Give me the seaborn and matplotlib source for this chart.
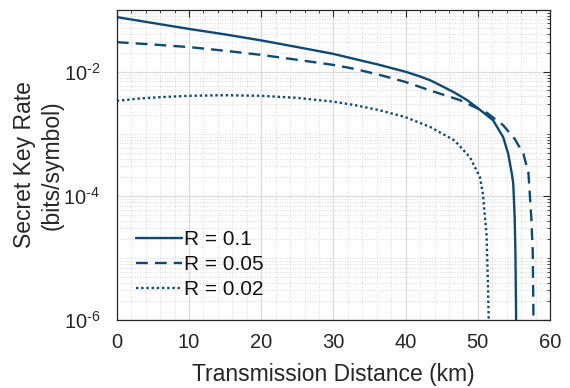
import numpy as np
import pandas as pd
import matplotlib
matplotlib.use("Agg")
import matplotlib.pyplot as plt
import seaborn as sns
from matplotlib.ticker import LogLocator, MultipleLocator, NullFormatter

# distances (km) and secret key rates (bits/symbol)
dist_r010 = [0, 5, 10, 15, 20, 25, 30, 33, 36.4, 38, 40, 42, 43.4, 45, 46.8, 48.5, 49.8, 51,
             52.1, 53.5, 54.2, 54.7, 54.9, 55.1, 55.2, 55.3, 55.35]
rate_r010 = [0.076, 0.061, 0.049, 0.040, 0.032, 0.025, 0.0194, 0.0160, 0.0129, 0.0115, 0.0100,
             0.0084, 0.0073, 0.0059, 0.0046, 0.0035, 0.0027, 0.0021, 0.00166, 0.00089, 0.00048,
             0.00023, 1.6e-4, 4.5e-5, 1.3e-5, 1.1e-6, 1e-7]

dist_r005 = [0, 5, 10, 15, 20, 25, 30, 33, 36.4, 39.9, 43.4, 47.5, 51.2, 53.5, 55.1, 56.3, 57.0,
             57.4, 57.6, 57.7, 57.75]
rate_r005 = [0.030, 0.0275, 0.025, 0.0218, 0.0187, 0.0156, 0.0129, 0.0111, 0.0089, 0.0069,
             0.0050, 0.0035, 0.0022, 0.00138, 0.00083, 0.00048, 0.00024, 4.5e-5, 1.3e-5, 1.1e-6, 1e-7]

dist_r002 = [0, 3, 6, 10, 14.8, 20, 25, 30, 33, 36.4, 39.9, 43.4, 46.8, 48.9, 50.3, 50.7, 51.2,
             51.4, 51.5, 51.55]
rate_r002 = [0.0034, 0.0037, 0.0039, 0.0041, 0.0042, 0.0041, 0.0038, 0.0033, 0.0029, 0.0024,
             0.00187, 0.00129, 0.00078, 0.00042, 0.0002, 1.07e-4, 2.4e-5, 3.7e-6, 1.1e-6, 1e-7]

labels = ["R = 0.1", "R = 0.05", "R = 0.02"]
ytick_vals = [1e-6, 1e-4, 1e-2]
ytick_exps = ["6", "4", "2"]

color = "#0a4a78"

sns.set_style("white")
plt.rcParams['font.family'] = ['Liberation Sans', 'DejaVu Sans']
plt.rcParams['mathtext.fontset'] = 'custom'
plt.rcParams['mathtext.rm'] = 'Liberation Sans'
plt.rcParams['mathtext.it'] = 'Liberation Sans:italic'
plt.rcParams['mathtext.bf'] = 'Liberation Sans:bold'

fig = plt.figure(figsize=(5.7, 3.88), dpi=100)
ax = fig.add_axes([0.205, 0.175, 0.76, 0.80])

series = [(dist_r010, rate_r010, "-", labels[0]),
          (dist_r005, rate_r005, (0, (5, 3)), labels[1]),
          (dist_r002, rate_r002, (0, (1, 1.2)), labels[2])]
for d, r, ls, lab in series:
    df = pd.DataFrame({"d": d, "r": r})
    sns.lineplot(data=df, x="d", y="r", ax=ax, color=color, linestyle=ls,
                 linewidth=1.7, label=lab, sort=False)

ax.set_yscale("log")
ax.set_xlim(0, 60)
ax.set_ylim(1e-6, 1e-1)
ax.xaxis.set_major_locator(MultipleLocator(10))
ax.xaxis.set_minor_locator(MultipleLocator(2))
ax.set_yticks(ytick_vals)
ax.set_yticklabels([r"$\mathregular{10^{\text{-}%s}}$" % e for e in ytick_exps])
ax.yaxis.set_minor_locator(LogLocator(base=10, subs=np.arange(1, 10), numticks=20))
ax.yaxis.set_minor_formatter(NullFormatter())

ax.grid(True, which="major", color="#dcdcdc", linewidth=0.9, linestyle="-")
ax.grid(True, which="minor", color="#d0d0d0", linewidth=0.6, linestyle=(0, (1, 2)))
ax.set_axisbelow(True)

for sp in ax.spines.values():
    sp.set_color("#262626")
    sp.set_linewidth(0.9)
ax.tick_params(which="both", direction="in", top=True, right=True, colors="#262626",
               labelcolor="#262626")
ax.tick_params(which="major", length=5, labelsize=14.5)
ax.tick_params(axis="x", which="major", pad=9)
ax.tick_params(axis="y", which="major", pad=12)
ax.tick_params(which="minor", length=2.5)

ax.set_xlabel("Transmission Distance (km)", fontsize=16.5, color="#262626", labelpad=8)
ax.set_ylabel("Secret Key Rate\n(bits/symbol)", fontsize=16.5, color="#262626",
              linespacing=1.3)
ax.yaxis.set_label_coords(-0.122, 0.5)

leg = ax.legend(loc="lower left", bbox_to_anchor=(0.01, 0.02), frameon=False, fontsize=15,
                handlelength=2.2, handletextpad=0.1, labelspacing=0.3, borderaxespad=0.3)
for t in leg.get_texts():
    t.set_color("#111111")

fig.savefig("out.png", dpi=100)
